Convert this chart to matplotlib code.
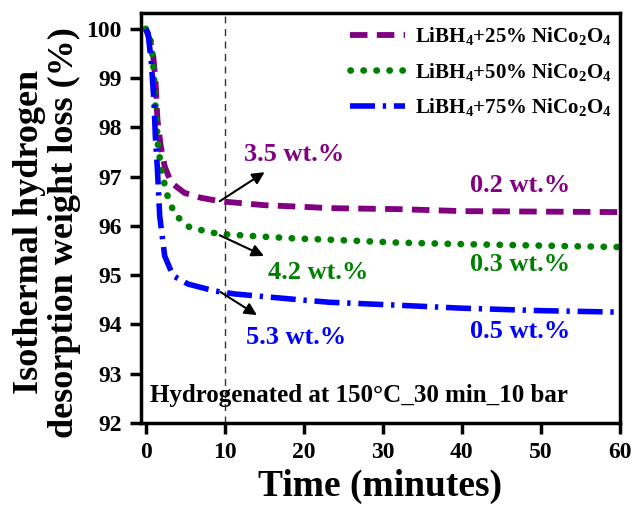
import matplotlib
matplotlib.use("Agg")
import matplotlib.pyplot as plt

plt.rcParams['font.family'] = ['Liberation Serif', 'DejaVu Serif']
plt.rcParams['font.weight'] = 'bold'
plt.rcParams['mathtext.fontset'] = 'custom'
plt.rcParams['mathtext.rm'] = 'Liberation Serif:bold'
plt.rcParams['mathtext.bf'] = 'Liberation Serif:bold'
plt.rcParams['mathtext.it'] = 'Liberation Serif:bold'
plt.rcParams['mathtext.default'] = 'bf'

# ---- data ----
t25 = [0, 0.5, 0.92, 1.23, 1.48, 1.9, 2.4, 3.2, 4.9, 7.0, 9.4, 15, 19.5, 23.3, 32, 40, 50, 60]
w25 = [100.0, 99.78, 99.5, 98.97, 98.16, 97.62, 97.21, 96.88, 96.67, 96.57, 96.50, 96.42, 96.39,
       96.36, 96.34, 96.30, 96.29, 96.28]

t50 = [0, 0.4, 0.72, 1.0, 1.23, 1.56, 1.98, 2.62, 3.67, 5.56, 8.5, 10, 15, 19.5, 23.3, 32, 40, 50, 60]
w50 = [100.0, 99.85, 99.71, 99.17, 98.43, 97.62, 97.15, 96.67, 96.23, 95.97, 95.86, 95.83, 95.78,
       95.74, 95.72, 95.66, 95.63, 95.60, 95.57]

t75 = [0, 0.3, 0.72, 1.05, 1.22, 1.48, 1.77, 2.4, 3.45, 5.35, 8.7, 11.2, 19.5, 23.3, 32, 40, 50, 60]
w75 = [100.0, 99.91, 99.3, 98.5, 97.82, 97.15, 96.2, 95.39, 94.99, 94.82, 94.68, 94.62, 94.50,
       94.45, 94.39, 94.33, 94.28, 94.25]

labels = ['LiBH$_4$+25% NiCo$_2$O$_4$', 'LiBH$_4$+50% NiCo$_2$O$_4$', 'LiBH$_4$+75% NiCo$_2$O$_4$']
colors = ['#800080', '#008000', '#0000ff']

xticks = [0, 10, 20, 30, 40, 50, 60]
yticks = [92, 93, 94, 95, 96, 97, 98, 99, 100]

# annotations: text, text position, arrow start, arrow end, colour index
ann_left = [("3.5 wt.%", (18.8, 97.45), (9.36, 96.50), (15.04, 97.09), 0),
            ("4.2 wt.%", (21.8, 95.05), (9.36, 95.81), (14.96, 95.39), 1),
            ("5.3 wt.%", (19.05, 93.74), (9.44, 94.66), (14.07, 94.19), 2)]
ann_right = [("0.2 wt.%", (47.3, 96.81), 0),
             ("0.3 wt.%", (47.3, 95.22), 1),
             ("0.5 wt.%", (47.3, 93.85), 2)]

# ---- figure ----
fig = plt.figure(figsize=(6.33, 5.16), dpi=100)
ax = fig.add_axes([0.2227, 0.1802, 0.7568, 0.7946])

ax.plot(t25, w25, color=colors[0], lw=4.2, linestyle=(0, (3.0, 1.6)), label=labels[0])
l2, = ax.plot(t50, w50, color=colors[1], lw=4.8, linestyle=(0, (0.05, 1.9)), label=labels[1])
l2.set_dash_capstyle('round')
ax.plot(t75, w75, color=colors[2], lw=4.0, linestyle=(0, (4.5, 1.4, 0.6, 1.4)), label=labels[2])

ax.axvline(10, color='#333333', lw=1.0, linestyle=(0, (5, 4)))

for txt, tp, a0, a1, ci in ann_left:
    ax.annotate("", xy=a1, xytext=a0,
                arrowprops=dict(arrowstyle='-|>', color='black', lw=1.5, mutation_scale=18,
                                shrinkA=0, shrinkB=0))
    ax.text(tp[0], tp[1], txt, color=colors[ci], fontsize=19, fontweight='bold',
            ha='center', va='center')
for txt, tp, ci in ann_right:
    ax.text(tp[0], tp[1], txt, color=colors[ci], fontsize=19, fontweight='bold',
            ha='center', va='center')

ax.text(0.5, 92.55, "Hydrogenated at 150\u00b0C_30 min_10 bar", fontsize=18,
        fontweight='bold', ha='left', va='center')

ax.set_xlim(-0.6, 60)
ax.set_ylim(92, 100.32)
ax.set_xticks(xticks)
ax.set_yticks(yticks)
ax.tick_params(axis='both', which='major', direction='out', length=8, width=2.5,
               labelsize=17, pad=6)
ax.tick_params(top=False, right=False)
for lab in ax.get_xticklabels() + ax.get_yticklabels():
    lab.set_fontweight('bold')
for s in ax.spines.values():
    s.set_linewidth(2.5)

ax.set_xlabel("Time (minutes)", fontsize=27, fontweight='bold', labelpad=4)
ax.set_ylabel("Isothermal hydrogen\ndesorption weight loss (%)", fontsize=26,
              fontweight='bold', linespacing=1.1)
ax.yaxis.set_label_coords(-0.125, 0.465)

leg = ax.legend(loc='upper right', bbox_to_anchor=(1.013, 1.006), frameon=False, fontsize=15,
                handlelength=2.6, labelspacing=0.65, borderaxespad=0.3, handletextpad=0.5)

fig.savefig("out.png", dpi=100)
